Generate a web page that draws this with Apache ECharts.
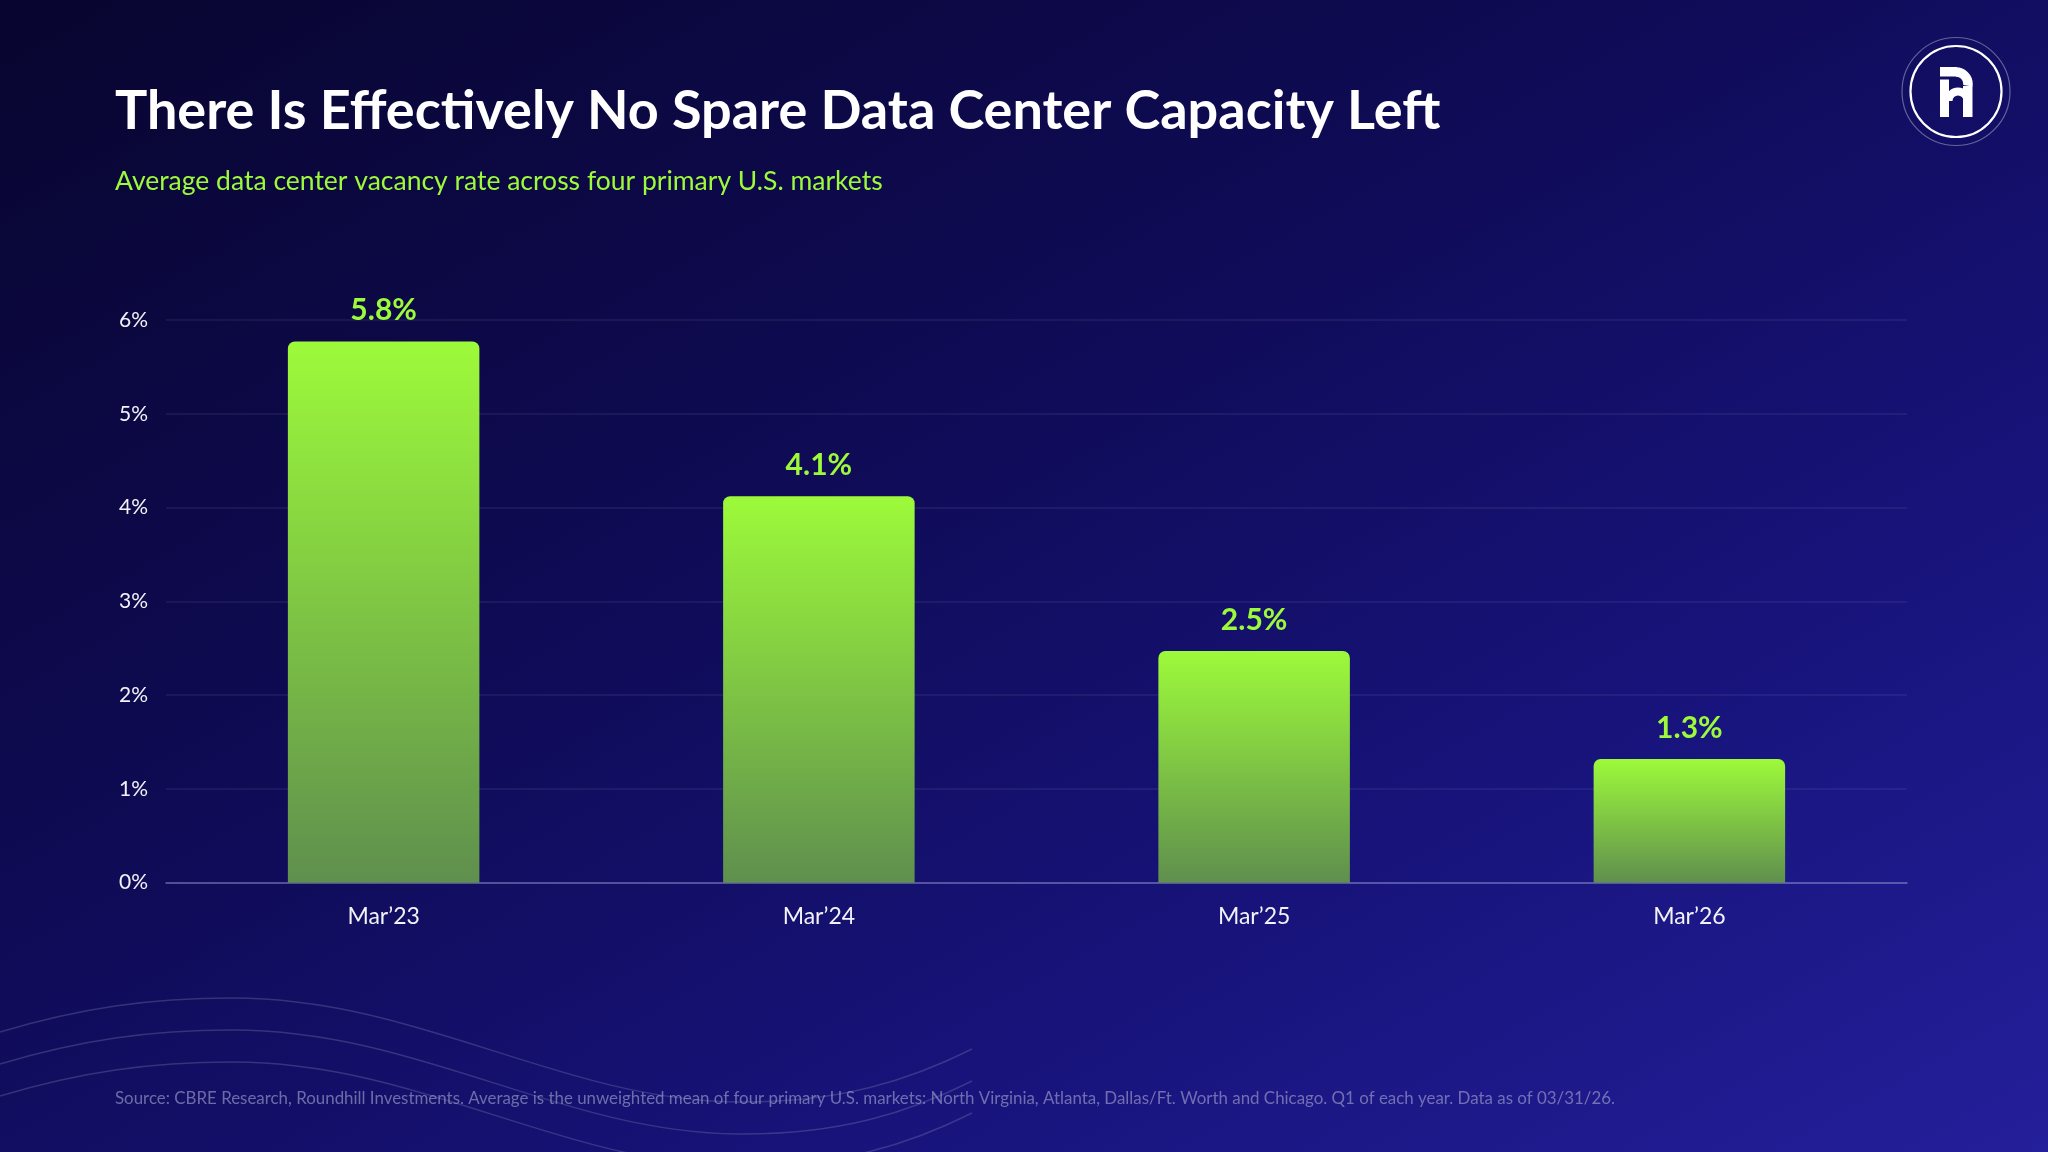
<!DOCTYPE html>
<html>
<head>
<meta charset="utf-8">
<script src="https://cdn.jsdelivr.net/npm/echarts@6/dist/echarts.min.js"></script>
<style>
  html, body { margin: 0; padding: 0; width: 2048px; height: 1152px; overflow: hidden;
    background: linear-gradient(to bottom right, #08052f 0%, #0f0b55 40%, #17137a 70%, #241f9a 100%); }
  #chart { width: 2048px; height: 1152px; }
</style>
</head>
<body>
<div id="chart"></div>
<script>
// ---- data ----
const categories = ['Mar\u201923', 'Mar\u201924', 'Mar\u201925', 'Mar\u201926'];
const vacancyRates = [5.77, 4.12, 2.47, 1.32];
const yTicks = [0, 1, 2, 3, 4, 5, 6];

const titleText = 'There Is Effectively No Spare Data Center Capacity Left';
const subtitleText = 'Average data center vacancy rate across four primary U.S. markets';
const sourceText = 'Source: CBRE Research, Roundhill Investments. Average is the unweighted mean of four primary U.S. markets: North Virginia, Atlanta, Dallas/Ft. Worth and Chicago. Q1 of each year. Data as of 03/31/26.';

const FONT = 'Lato, "Noto Sans", sans-serif';
const LIME = '#9dfa3a';

const chart = echarts.init(document.getElementById('chart'), null, { renderer: 'canvas' });

// decorative waves (bottom-left), built from cubic segments
const waveStyle = { fill: null, stroke: 'rgba(140,150,190,0.28)', lineWidth: 1.5 };
const waves = [];
[0, 32, 64].forEach(dy => {
  const segs = [
    [0, 1032, 80, 1008, 150, 998, 232, 998],
    [232, 998, 420, 998, 560, 1100, 737, 1102],
    [737, 1102, 840, 1103, 910, 1080, 972, 1049]
  ];
  segs.forEach(s => waves.push({
    type: 'bezierCurve', silent: true, z: 0,
    shape: { x1: s[0], y1: s[1] + dy, cpx1: s[2], cpy1: s[3] + dy,
             cpx2: s[4], cpy2: s[5] + dy, x2: s[6], y2: s[7] + dy },
    style: waveStyle
  }));
});

const logo = [
  { type: 'circle', silent: true, shape: { cx: 1956, cy: 91.5, r: 54 },
    style: { fill: null, stroke: 'rgba(255,255,255,0.35)', lineWidth: 1.2 } },
  { type: 'circle', silent: true, shape: { cx: 1956, cy: 91.5, r: 45.5 },
    style: { fill: null, stroke: '#ffffff', lineWidth: 2.2 } },
  { type: 'rect', silent: true, shape: { x: 1940, y: 67, width: 17, height: 9.5 }, style: { fill: '#fff' } },
  { type: 'arc', silent: true, shape: { cx: 1956, cy: 84, r: 12, startAngle: -Math.PI / 2, endAngle: 0.15, clockwise: true },
    style: { fill: null, stroke: '#fff', lineWidth: 9.5 } },
  { type: 'rect', silent: true, shape: { x: 1963, y: 86, width: 9.5, height: 31 }, style: { fill: '#fff' } },
  { type: 'rect', silent: true, shape: { x: 1940, y: 79.5, width: 9, height: 37.5 }, style: { fill: '#fff' } },
  { type: 'arc', silent: true, shape: { cx: 1958, cy: 101, r: 9.5, startAngle: Math.PI, endAngle: 2 * Math.PI, clockwise: true },
    style: { fill: null, stroke: '#fff', lineWidth: 8 } }
];

const option = {
  backgroundColor: 'transparent',
  animation: false,
  grid: { left: 166, right: 141, top: 320, bottom: 269.3, containLabel: false },
  xAxis: {
    type: 'category',
    data: categories,
    axisLine: { show: true, lineStyle: { color: 'rgba(160,160,220,0.55)', width: 1.5 } },
    axisTick: { show: false },
    axisLabel: { color: '#f2f2f8', fontFamily: FONT, fontSize: 23, margin: 22 }
  },
  yAxis: {
    type: 'value',
    min: yTicks[0],
    max: yTicks[yTicks.length - 1],
    interval: 1,
    axisLine: { show: false },
    axisTick: { show: false },
    splitLine: { lineStyle: { color: 'rgba(255,255,255,0.08)', width: 1.5 } },
    axisLabel: { color: '#f2f2f8', fontFamily: FONT, fontSize: 21, margin: 18,
      formatter: v => v + '%' }
  },
  series: [{
    type: 'bar',
    data: vacancyRates,
    barWidth: '44%',
    itemStyle: {
      borderRadius: [7, 7, 0, 0],
      color: {
        type: 'linear', x: 0, y: 0, x2: 0, y2: 1,
        colorStops: [
          { offset: 0, color: '#9dfa3a' },
          { offset: 1, color: '#5f8f4e' }
        ]
      }
    },
    label: {
      show: true, position: 'top', distance: 16,
      color: LIME, fontFamily: FONT, fontWeight: 'bold', fontSize: 30,
      formatter: p => p.value.toFixed(1) + '%'
    }
  }],
  graphic: [
    ...waves,
    { type: 'text', left: 115, top: 85, z: 10,
      style: { text: titleText, fill: '#ffffff', font: 'bold 54px ' + FONT } },
    { type: 'text', left: 115, top: 168, z: 10,
      style: { text: subtitleText, fill: LIME, font: '26.5px ' + FONT } },
    { type: 'text', left: 115, top: 1090, z: 10,
      style: { text: sourceText, fill: 'rgba(170,170,210,0.6)', font: '16.9px ' + FONT } },
    ...logo
  ]
};
chart.setOption(option);
</script>
</body>
</html>
